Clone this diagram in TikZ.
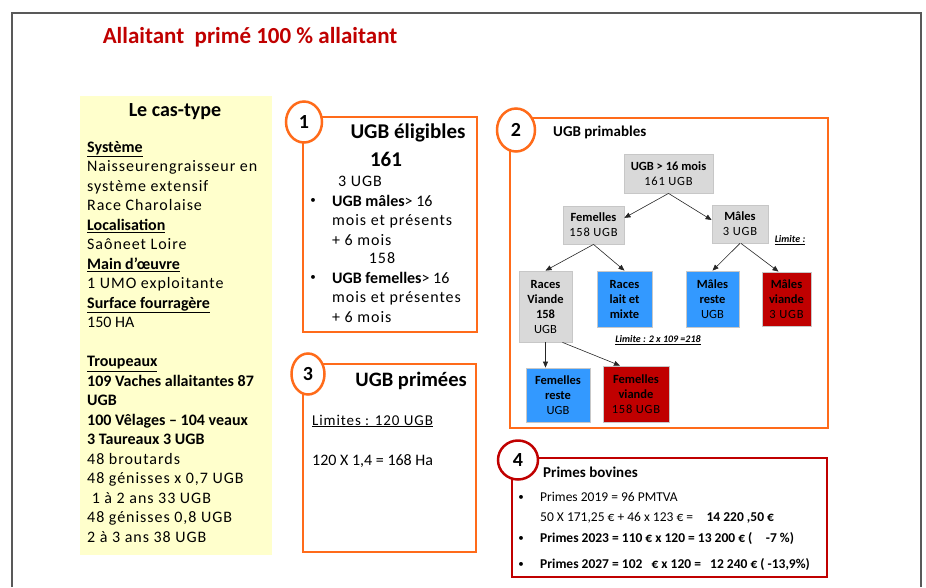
\documentclass[tikz,border=0pt]{standalone}
\usepackage{fontspec}
\setmainfont{Carlito}
\newfontfamily\spaced[LetterSpace=6]{Carlito}
\definecolor{titlered}{HTML}{C00000}
\definecolor{framegray}{HTML}{595959}
\definecolor{creme}{HTML}{FFFFCC}
\definecolor{orangeline}{HTML}{FF6B1A}
\definecolor{boxgray}{HTML}{D9D9D9}
\definecolor{boxblue}{HTML}{3399FF}
\usetikzlibrary{shapes.geometric,arrows.meta,calc}

\begin{document}
\begin{tikzpicture}[x=1pt,y=-1pt,every node/.style={inner sep=0pt},
    num/.style={ellipse,draw=#1,line width=2.5pt,fill=white,minimum width=36pt,minimum height=41pt,font=\fontsize{20}{20}\selectfont\bfseries},
    tbox/.style={draw=#1,line width=2.5pt},
    tree/.style={draw=black!22,line width=0.8pt,fill=#1,align=center,font=\fontsize{12.5}{15}\selectfont},
    bullet/.style={font=\fontsize{11}{11}\selectfont},
    link/.style={-{Triangle[length=6pt,width=5pt]},black!85,line width=0.6pt}]
    \useasboundingbox (0,0) rectangle (926,587);
    \draw[framegray,line width=1.5pt] (12,587) |- (921,13) -- (921,587);
    \node[titlered,font=\fontsize{23}{23}\selectfont\bfseries] (title) at (250,37) {Allaitant\ \ primé 100 \% allaitant};

    % le cas-type
    \fill[creme] (80,96) rectangle (272,555);
    \node[font=\fontsize{20}{20}\selectfont\bfseries] (castype) at (175,112) {Le cas-type};
    \node[anchor=west,align=left,font=\fontsize{16}{19.5}\selectfont] (fiche) at (87,342) {%
        \underline{\textbf{Système}}\\
        {\spaced Naisseurengraisseur en}\\
        {\spaced système extensif}\\
        {\spaced Race Charolaise}\\
        \underline{\textbf{Localisation}}\\
        {\spaced Saôneet Loire}\\
        \underline{\textbf{Main d’œuvre}}\\
        {\spaced 1 UMO exploitante}\\
        \underline{\textbf{Surface fourragère}}\\
        150 HA\\
        \strut\\
        \underline{\textbf{Troupeaux}}\\
        \textbf{109 Vaches allaitantes 87}\\
        \textbf{UGB}\\
        \textbf{100 Vêlages – 104 veaux}\\
        \textbf{3 Taureaux 3 UGB}\\
        {\spaced 48 broutards}\\
        {\spaced 48 génisses x 0,7 UGB}\\
        {\spaced \ 1 à 2 ans 33 UGB}\\
        {\spaced 48 génisses 0,8 UGB}\\
        {\spaced 2 à 3 ans 38 UGB}};

    % 1
    \draw[tbox=orangeline] (303,117) rectangle (477,332);
    \node[num=orangeline] (n1) at (304,122) {1};
    \node[font=\fontsize{21}{21}\selectfont\bfseries] (elig) at (408,133) {UGB éligibles};
    \node[font=\fontsize{21}{21}\selectfont\bfseries] (elig161) at (386,159) {161};
    \node[font=\fontsize{16}{16}\selectfont\spaced] (m3) at (360,181) {3 UGB};
    \node[bullet] (bm) at (313,201) {•};
    \node[anchor=west,align=left,font=\fontsize{16}{19.5}\selectfont] (males) at (332,220) {%
        \textbf{UGB mâles}> 16\\{\spaced mois et présents}\\{\spaced + 6 mois}};
    \node[font=\fontsize{16}{16}\selectfont\spaced] (f158) at (382,258) {158};
    \node[bullet] (bf) at (313,278) {•};
    \node[anchor=west,align=left,font=\fontsize{16}{19.5}\selectfont] (femelles) at (332,297) {%
        \textbf{UGB femelles}> 16\\{\spaced mois et présentes}\\{\spaced + 6 mois}};

    % 2
    \draw[tbox=orangeline] (510,118) rectangle (828,428);
    \node[num=orangeline,minimum width=38pt,minimum height=43pt] (n2) at (516,130) {2};
    \node[anchor=west,font=\fontsize{15}{15}\selectfont\bfseries] (b2title) at (553,132) {UGB primables};
    \node[tree=boxgray,minimum width=89pt,minimum height=39pt] (root) at (668.5,173.5) {\textbf{UGB > 16 mois}\\{\spaced 161 UGB}};
    \node[tree=boxgray,minimum width=61pt,minimum height=38pt] (fem) at (593.5,225) {\textbf{Femelles}\\{\spaced 158 UGB}};
    \node[tree=boxgray,minimum width=56pt,minimum height=38pt] (mal) at (740,224) {\textbf{Mâles}\\{\spaced 3 UGB}};
    \node[tree=boxgray,minimum width=53pt,minimum height=71pt] (rv) at (545.5,306.5) {\textbf{Races}\\\textbf{Viande}\\\textbf{158}\\UGB};
    \node[tree=boxblue,minimum width=55pt,minimum height=56pt] (rl) at (624.5,299) {\textbf{Races}\\\textbf{lait et}\\\textbf{mixte}};
    \node[tree=boxblue,minimum width=53pt,minimum height=56pt] (mr) at (712.5,299) {\textbf{Mâles}\\\textbf{reste}\\UGB};
    \node[tree=titlered,minimum width=49pt,minimum height=54pt] (mv) at (786.5,299) {\textbf{Mâles}\\\textbf{viande}\\{\spaced 3 UGB}};
    \node[tree=boxblue,minimum width=64pt,minimum height=54pt] (fr) at (558,395) {\textbf{Femelles}\\\textbf{reste}\\UGB};
    \node[tree=titlered,minimum width=66pt,minimum height=56pt] (fv) at (636,394) {\textbf{Femelles}\\\textbf{viande}\\{\spaced 158 UGB}};
    \node[font=\fontsize{10}{10}\selectfont\bfseries\itshape] (lim1) at (790,240) {\underline{Limite :}};
    \node[font=\fontsize{10}{10}\selectfont\bfseries\itshape] (lim2) at (658,340) {\underline{Limite : 2 x 109 =218}};
    \draw[link] (root.south) -- (fem.13);
    \draw[link] (root.south) -- (mal.172);
    \draw[link] (fem.south) -- (rv.north);
    \draw[link] (fem.south) -- (rl.north);
    \draw[link] (mal.south) -- (mr.north);
    \draw[link] ($(mal.south)+(1,0)$) -- ($(mv.north)+(-8,0)$);
    \draw[link] (rv.south) -- (rv.south |- fr.north);
    \draw[link] ($(rv.south)+(17,0)$) -- ($(fv.north)+(-16,0)$);

    % 3
    \draw[tbox=orangeline] (303,364) rectangle (476,552);
    \node[num=orangeline,minimum width=33pt] (n3) at (308,374) {3};
    \node[anchor=east,font=\fontsize{20.5}{20.5}\selectfont\bfseries] (b3title) at (467,381) {UGB primées};
    \node[anchor=west,font=\fontsize{15}{15}\selectfont\spaced] (lim120) at (312,421) {\underline{Limites : 120 UGB}};
    \node[anchor=west,font=\fontsize{16}{16}\selectfont] (ha) at (312,461) {120 X 1,4 = 168 Ha};

    % 4
    \draw[tbox=titlered,line width=2pt] (512,458) rectangle (827,577);
    \node[num=titlered,minimum width=40pt,minimum height=39pt] (n4) at (518,460) {4};
    \node[anchor=west,font=\fontsize{15}{15}\selectfont\bfseries] (b4title) at (543,472) {Primes bovines};
    \node[bullet] (b19) at (521,498) {•};
    \node[bullet] (b23) at (521,539) {•};
    \node[bullet] (b27) at (521,565) {•};
    \node[anchor=west,align=left,font=\fontsize{13.5}{20}\selectfont] (p19) at (540,508) {%
        Primes 2019 = 96 PMTVA\\50 X 171,25 € + 46 x 123 € =\quad\textbf{14 220 ,50 €}};
    \node[anchor=west,font=\fontsize{13.5}{13.5}\selectfont\bfseries] (p23) at (540,539) {Primes 2023 = 110 € x 120 = 13 200 € (\quad -7 \%)};
    \node[anchor=west,font=\fontsize{13.5}{13.5}\selectfont\bfseries] (p27) at (540,565) {Primes 2027 = 102\ \ \ € x 120 =\ \ \ 12 240 € ( -13,9\%)};
\end{tikzpicture}
\end{document}
